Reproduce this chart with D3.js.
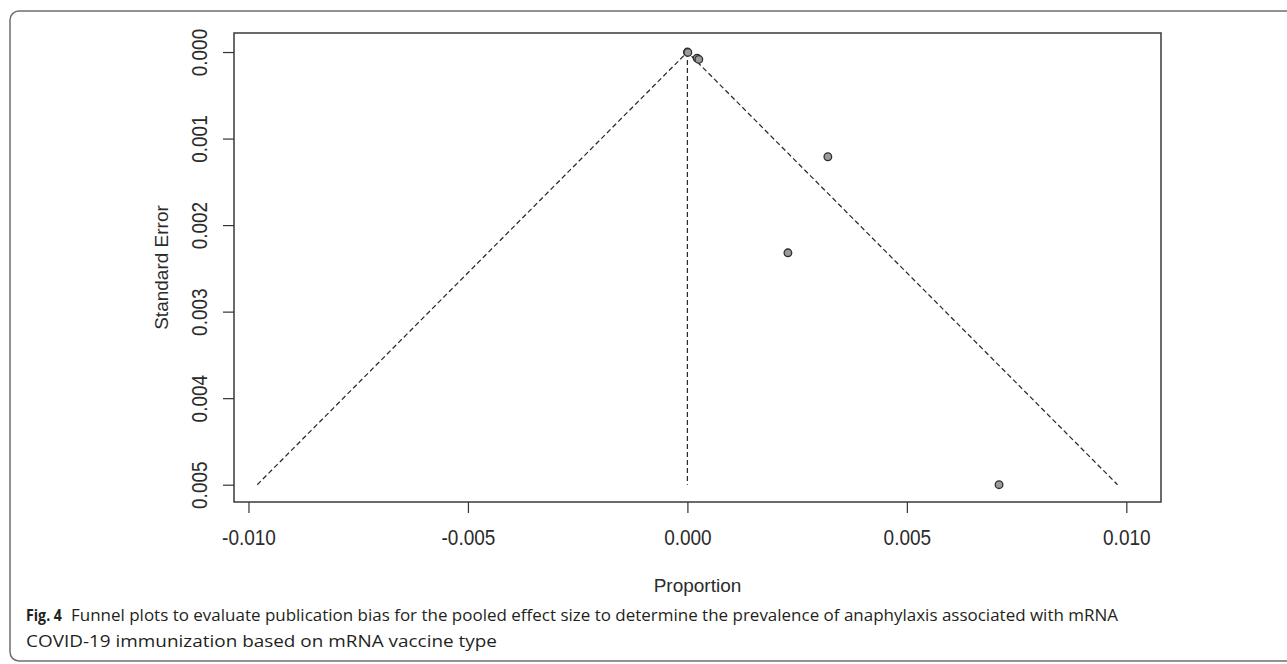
<!DOCTYPE html>
<html>
<head>
<meta charset="utf-8">
<style>
  body { margin: 0; background: #fff; }
  svg { display: block; }
  .axis text { font-family: "Liberation Sans", Arial, sans-serif; font-size: 19px; fill: #2b2b2b; }
  .axis line, .axis path { stroke: #333; stroke-width: 1.2; }
  .caption { font-family: "Open Sans", "Noto Sans", sans-serif; font-size: 16.8px; fill: #231f20; }
</style>
</head>
<body>
<svg width="1287" height="664"></svg>
<script src="https://d3js.org/d3.v7.min.js"></script>
<script>

// study estimates (proportion) and their standard errors
var estimates  = [0.00000, 0.00001, 0.00022, 0.00026, 0.00320, 0.00229, 0.00710];
var stdErrors  = [0.000000, 0.000004, 0.000070, 0.000085, 0.00121, 0.00232, 0.00500];

// funnel: pooled estimate, max SE, z value
var pooled = 0.0;
var maxSE = 0.005;
var zCrit = 1.96;

var xTicks = [-0.010, -0.005, 0.000, 0.005, 0.010];
var yTicks = [0.000, 0.001, 0.002, 0.003, 0.004, 0.005];

var xTitle = "Proportion";
var yTitle = "Standard Error";
var captionBold = "Fig. 4";
var captionLine1 = "Funnel plots to evaluate publication bias for the pooled effect size to determine the prevalence of anaphylaxis associated with mRNA";
var captionLine2 = "COVID-19 immunization based on mRNA vaccine type";

var svg = d3.select("svg");

// figure frame
svg.append("rect")
    .attr("x", 10).attr("y", 11)
    .attr("width", 1300).attr("height", 650)
    .attr("rx", 9)
    .attr("fill", "none")
    .attr("stroke", "#6f6f6f")
    .attr("stroke-width", 1.5);

var plot = {left: 234, right: 1161, top: 33, bottom: 502};

var x = d3.scaleLinear()
    .domain([-0.01033, 0.01079])
    .range([plot.left, plot.right]);

var y = d3.scaleLinear()
    .domain([-0.00022, 0.0052])
    .range([plot.top, plot.bottom]);

var fmt = function(d) { return d.toFixed(3); };
var stretch = 1.15; // the scanned R labels are a bit taller than wide

// funnel lines
var funnel = svg.append("g")
    .attr("fill", "none")
    .attr("stroke", "#2a2a2a")
    .attr("stroke-width", 1.25)
    .attr("stroke-dasharray", "5,3");

funnel.append("path")
    .attr("d", d3.line()([
      [x(pooled - zCrit * maxSE), y(maxSE)],
      [x(pooled), y(0)],
      [x(pooled + zCrit * maxSE), y(maxSE)]
    ]));

funnel.append("line")
    .attr("x1", x(pooled)).attr("x2", x(pooled))
    .attr("y1", y(0)).attr("y2", y(maxSE));

// study points
svg.append("g")
  .selectAll("circle")
  .data(estimates)
  .enter().append("circle")
    .attr("cx", function(d) { return x(d); })
    .attr("cy", function(d, i) { return y(stdErrors[i]); })
    .attr("r", 3.8)
    .attr("fill", "#9b9b9b")
    .attr("stroke", "#2e2e2e")
    .attr("stroke-width", 1.3);

// plot box
svg.append("rect")
    .attr("x", plot.left).attr("y", plot.top)
    .attr("width", plot.right - plot.left)
    .attr("height", plot.bottom - plot.top)
    .attr("fill", "none")
    .attr("stroke", "#3a3a3a")
    .attr("stroke-width", 1.5);

// x axis
var xAxis = svg.append("g")
    .attr("class", "axis")
    .attr("transform", "translate(0," + plot.bottom + ")")
    .call(d3.axisBottom(x).tickValues(xTicks).tickFormat(fmt).tickSize(11).tickSizeOuter(0));
xAxis.select(".domain").remove();
xAxis.selectAll("text")
    .attr("y", 43 / stretch)
    .attr("dy", 0)
    .attr("transform", "scale(1," + stretch + ")");

// y axis
var yAxis = svg.append("g")
    .attr("class", "axis")
    .attr("transform", "translate(" + plot.left + ",0)")
    .call(d3.axisLeft(y).tickValues(yTicks).tickFormat(fmt).tickSize(11).tickSizeOuter(0));
yAxis.select(".domain").remove();
yAxis.selectAll("text")
    .attr("x", 0)
    .attr("y", -27 / stretch)
    .attr("dy", 0)
    .attr("text-anchor", "middle")
    .attr("transform", "rotate(-90) scale(1," + stretch + ")");

// axis titles
svg.append("text")
    .attr("x", (plot.left + plot.right) / 2)
    .attr("y", 592)
    .attr("text-anchor", "middle")
    .style("font-family", "'Liberation Sans', Arial, sans-serif")
    .style("font-size", "19px")
    .attr("fill", "#2b2b2b")
    .text(xTitle);

svg.append("text")
    .attr("transform", "translate(168," + ((plot.top + plot.bottom) / 2) + ") rotate(-90)")
    .attr("text-anchor", "middle")
    .style("font-family", "'Liberation Sans', Arial, sans-serif")
    .style("font-size", "19px")
    .attr("fill", "#2b2b2b")
    .text(yTitle);

// caption
svg.append("text")
    .attr("class", "caption")
    .attr("x", 26).attr("y", 621)
    .attr("font-weight", "bold")
    .attr("textLength", 36)
    .attr("lengthAdjust", "spacingAndGlyphs")
    .text(captionBold);

svg.append("text")
    .attr("class", "caption")
    .attr("x", 71).attr("y", 621)
    .attr("textLength", 1047)
    .attr("lengthAdjust", "spacingAndGlyphs")
    .text(captionLine1);

svg.append("text")
    .attr("class", "caption")
    .attr("x", 26).attr("y", 647)
    .attr("textLength", 471)
    .attr("lengthAdjust", "spacingAndGlyphs")
    .text(captionLine2);

</script>
</body>
</html>
